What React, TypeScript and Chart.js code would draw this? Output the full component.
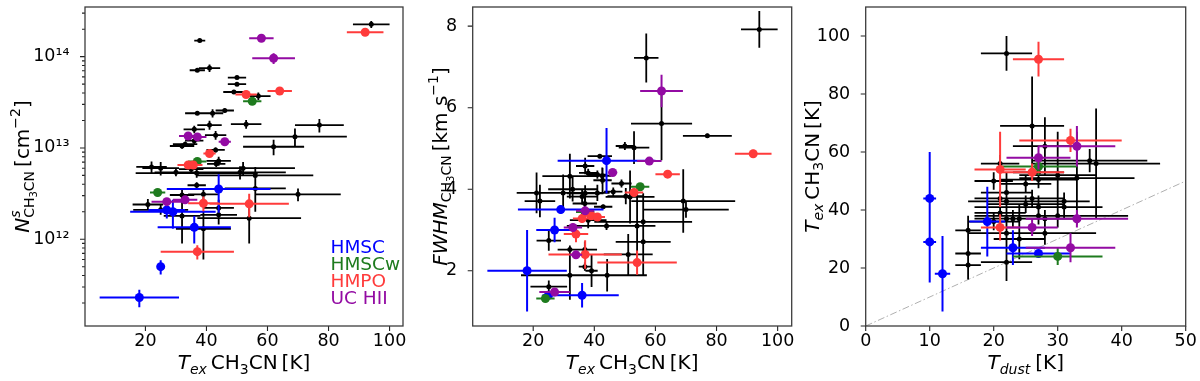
import React, { useEffect, useRef } from "react";
import { Chart, registerables } from "chart.js";
Chart.register(...registerables);

type P = [number, number, number, number]; // x, y, xErr, yErr

// ---------------- Panel 1: N(CH3CN) vs Tex ----------------
const texTicks = [20, 40, 60, 80, 100];
const nTicks = [1e12, 1e13, 1e14];
const n_HMSC: P[] = [
  [18, 2.3e11, 13, 0.5e11], [25, 5.0e11, 0.8, 0.9e11], [27, 2.09e12, 6, 0.4e12],
  [29, 2.0e12, 14, 0.7e12], [36, 1.35e12, 12, 0.45e12], [44, 3.55e12, 17, 1.6e12],
];
const n_HMSCw: P[] = [
  [55, 3.25e13, 3, 0.2e13], [37, 7.1e12, 3, 0.6e12], [24, 3.25e12, 2.5, 0.3e12],
];
const n_HMPO: P[] = [
  [92, 1.85e14, 6, 0.1e14], [64, 4.2e13, 4, 0.2e13], [53, 3.85e13, 3.5, 0.2e13],
  [41, 8.7e12, 2, 0.5e12], [34, 6.5e12, 3.5, 0.4e12], [35.7, 6.5e12, 3, 0.4e12],
  [39, 2.48e12, 5, 0.45e12], [54, 2.44e12, 13, 0.7e12], [37, 7.3e11, 12, 1.3e11],
];
const n_UCHII: P[] = [
  [58, 1.59e14, 4, 0.08e14], [62, 9.6e13, 7, 1.3e13], [34, 1.35e13, 3, 0.08e13],
  [37, 1.32e13, 3, 0.08e13], [46, 1.17e13, 2, 0.07e13], [27, 2.58e12, 5, 0.2e12],
  [33, 2.7e12, 4, 0.2e12],
];
const n_other: P[] = [
  [94, 2.26e14, 6, 0.2e14], [37.8, 1.5e14, 1.8, 0.06e14], [37, 7.1e13, 2.5, 0.3e13],
  [41, 7.5e13, 3.5, 0.7e13], [50, 5.9e13, 3, 0.25e13], [50, 5.0e13, 3, 0.2e13],
  [49, 4.1e13, 3.5, 0.2e13], [57, 3.7e13, 4, 0.35e13], [37, 2.4e13, 4, 0.1e13],
  [42, 2.4e13, 3.5, 0.25e13], [46, 2.57e13, 3, 0.12e13], [41, 1.78e13, 4, 0.2e13],
  [53, 1.82e13, 5, 0.2e13], [77, 1.78e13, 8, 0.3e13], [69, 1.33e13, 17, 0.3e13],
  [62, 1.03e13, 10, 0.2e13], [36, 1.6e13, 3.5, 0.15e13], [43, 1.38e13, 3.5, 0.15e13],
  [32, 1.05e13, 4, 0.07e13], [33, 1.1e13, 4, 0.07e13], [36, 1.2e13, 3, 0.08e13],
  [43, 9.5e12, 3, 0.6e12], [22, 6.2e12, 5, 0.9e12], [25, 6.0e12, 6, 1.0e12],
  [30, 5.4e12, 7, 0.5e12], [35, 5.85e12, 4, 0.4e12], [36.8, 5.3e12, 20, 0.6e12],
  [43.2, 6.7e12, 3, 0.5e12], [44, 7.2e12, 4, 0.8e12], [51, 5.4e12, 15, 0.9e12],
  [52, 6.0e12, 17, 1.0e12], [56, 5.0e12, 19, 1.2e12], [36.8, 3.9e12, 3, 0.3e12],
  [56, 3.6e12, 10, 1.6e12], [70, 3.1e12, 14, 0.5e12], [39, 3.1e12, 5, 0.4e12],
  [32, 3.05e12, 4, 0.45e12], [20.8, 2.4e12, 5, 0.35e12], [25, 2.1e12, 9, 0.25e12],
  [32, 1.8e12, 6, 0.9e12], [44, 2.2e12, 5, 0.5e12], [44, 1.85e12, 6, 0.4e12],
  [54, 1.7e12, 17, 0.8e12], [39, 1.3e12, 9, 0.7e12],
];

// ---------------- Panel 2: FWHM vs Tex ----------------
const fwhmTicks = [2, 4, 6, 8];
const w_HMSC: P[] = [
  [18, 2.0, 13, 1.0], [25, 1.4, 2, 0.1], [27, 3.0, 6, 0.3],
  [29, 3.5, 14, 0.1], [36, 1.4, 12, 0.3], [44, 4.7, 16, 0.8],
];
const w_HMSCw: P[] = [[55, 4.06, 3, 0.08], [37, 3.44, 3, 0.1], [24, 1.32, 3, 0.06]];
const w_HMPO: P[] = [
  [92, 4.87, 6, 0.1], [64, 4.37, 4, 0.06], [53, 3.92, 3, 0.1], [36, 3.28, 3, 0.1],
  [39, 3.35, 3, 0.08], [41, 3.32, 2.5, 0.08], [34, 2.9, 4, 0.2], [37, 2.4, 12, 0.35],
  [54, 2.2, 13, 0.3],
];
const w_UCHII: P[] = [
  [62, 6.41, 7, 0.4], [58, 4.69, 4, 0.08], [46, 4.41, 1.5, 0.06], [33, 3.06, 3, 0.1],
  [34, 2.39, 2, 0.08], [27, 1.48, 5, 0.06], [37, 3.47, 3, 0.1],
];
const w_other: P[] = [
  [94, 7.92, 6, 0.45], [57, 7.22, 4, 0.6], [62, 5.61, 10, 0.9], [77, 5.31, 8, 0.05],
  [50, 5.06, 3, 0.1], [53, 5.02, 5, 0.4], [41.8, 4.81, 4, 0.05], [37, 4.57, 3, 0.2],
  [38, 4.4, 3, 0.1], [41, 4.36, 3, 0.1], [42.6, 4.33, 3, 0.2], [42.7, 4.22, 3, 0.3],
  [48.9, 4.14, 3.3, 0.1], [32, 4.32, 9, 0.55], [21.1, 3.91, 6.5, 0.5], [22.2, 3.71, 5, 0.4],
  [29.8, 3.91, 9, 0.45], [32.9, 4.0, 8, 0.3], [36, 3.82, 5, 0.2], [37, 3.9, 6, 0.2],
  [41, 3.91, 4, 0.2], [46.2, 3.94, 3, 0.1], [50.3, 3.83, 6, 0.2], [51.7, 3.81, 8, 0.65],
  [69.1, 3.71, 17, 0.78], [70, 3.5, 14, 0.2], [42.9, 3.57, 3, 0.05], [36.9, 3.65, 4, 0.15],
  [38, 3.24, 6, 0.2], [44, 3.1, 13, 0.1], [54, 3.1, 6, 0.8], [56, 3.2, 16, 0.7],
  [56, 2.71, 9, 0.8], [51.1, 2.4, 8, 0.5], [32, 2.52, 4, 0.1], [36.9, 2.52, 4, 0.2],
  [25.1, 2.74, 4, 0.25], [36.9, 2.1, 2, 0.1], [39.1, 2.0, 2, 0.4], [32, 1.89, 16, 0.6],
  [44.2, 1.89, 13, 0.4], [25.1, 1.61, 6, 0.15],
];

// ---------------- Panel 3: Tex vs Tdust ----------------
const tdustTicks = [0, 10, 20, 30, 40, 50];
const texTicks3 = [0, 20, 40, 60, 80, 100];
const oneToOne: [number, number][] = [[0, 0], [50, 50]];
const t_HMSC: P[] = [
  [10, 44, 1, 16], [10, 29, 1, 14], [12, 18, 1.2, 13], [19, 36, 2.8, 12], [23, 27, 5, 6], [27, 25, 5, 1],
];
const t_HMSCw: P[] = [[27, 55, 6, 3], [30, 24, 7, 3]];
const t_HMPO: P[] = [[27, 92, 4, 6], [32, 64, 8, 4], [21, 54, 4, 13], [26, 53, 5, 3], [21, 34, 3, 4.5]];
const t_UCHII: P[] = [[27, 58, 5, 4], [33, 62, 6, 7], [33, 37, 8, 3], [26, 34, 4, 3], [32, 27, 7, 5]];
const t_other: P[] = [
  [22, 94, 4, 6], [26, 69, 5, 17], [28, 62, 5, 10], [36, 56, 10, 19], [35, 57, 9, 4],
  [21, 56, 3, 3], [20, 50, 3, 3], [25, 49, 4, 3], [27, 50.5, 6, 3], [27, 53, 4, 3],
  [30, 52, 6, 15], [33, 51, 9, 16], [21, 44, 4, 3], [22, 46, 4, 7], [22, 43, 6, 4],
  [26, 44, 5, 3], [25, 42, 6, 3], [27, 41, 10, 4], [31, 43, 4, 3], [31, 41, 6, 4],
  [21, 39, 4, 3], [20, 36, 4, 3], [22, 37, 4, 8], [23, 37, 6, 3], [24, 37, 5, 5],
  [27, 38, 10, 3], [28, 37, 5, 3], [30, 38, 11, 4], [22, 32, 6, 5], [24, 30, 4, 7],
  [28, 32, 8, 4], [16, 33, 2, 5], [16, 25, 2, 9], [16, 21, 2, 5], [22, 22, 4, 6.5],
];

const legendLabels = ["HMSC", "HMSCw", "HMPO", "UC HII"];

// ---------------- styles ----------------
const C_HMSC = "#0000ff";
const C_HMSCW = "#1e7b1e";
const C_HMPO = "#ff3b3b";
const C_UCHII = "#930ba3";
const C_OTHER = "#000000";
const FAM = '"DejaVu Sans"';

type Seg = { t?: string; it?: boolean; sz?: number; dy?: number; gap?: number; stack?: Seg[][] };

const texLabel: Seg[] = [
  { t: "T", it: true }, { t: "ex", it: true, sz: 14, dy: 4.5 }, { gap: 4 },
  { t: "CH" }, { t: "3", sz: 14, dy: 4.5 }, { t: "CN" }, { gap: 4 }, { t: "[K]" },
];
const nLabel: Seg[] = [
  { t: "N", it: true },
  { stack: [[{ t: "s", it: true, sz: 14, dy: -9 }], [{ t: "CH", sz: 14, dy: 5.5 }, { t: "3", sz: 10, dy: 8.5 }, { t: "CN", sz: 14, dy: 5.5 }]] },
  { gap: 4 }, { t: "[cm" }, { t: "\u22122", sz: 14, dy: -9 }, { t: "]" },
];
const fwhmLabel: Seg[] = [
  { t: "FWHM", it: true }, { t: "CH", sz: 14, dy: 4.5 }, { t: "3", sz: 10, dy: 7.5 }, { t: "CN", sz: 14, dy: 4.5 },
  { gap: 4 }, { t: "[km s" }, { t: "\u22121", sz: 14, dy: -9 }, { t: "]" },
];
const tdustLabel: Seg[] = [{ t: "T", it: true }, { t: "dust", it: true, sz: 14, dy: 4.5 }, { gap: 5 }, { t: "[K]" }];

function fontOf(s: Seg) {
  return `${s.it ? "italic " : ""}${s.sz ?? 20}px ${FAM}`;
}
function seqWidth(ctx: CanvasRenderingContext2D, segs: Seg[]): number {
  let w = 0;
  for (const s of segs) {
    if (s.gap) w += s.gap;
    else if (s.stack) w += Math.max(...s.stack.map((q) => seqWidth(ctx, q)));
    else { ctx.font = fontOf(s); w += ctx.measureText(s.t!).width; }
  }
  return w;
}
function drawSeq(ctx: CanvasRenderingContext2D, segs: Seg[], x: number, y: number): number {
  for (const s of segs) {
    if (s.gap) x += s.gap;
    else if (s.stack) {
      let mw = 0;
      for (const q of s.stack) mw = Math.max(mw, drawSeq(ctx, q, x, y) - x);
      x += mw;
    } else {
      ctx.font = fontOf(s);
      ctx.fillText(s.t!, x, y + (s.dy ?? 0));
      x += ctx.measureText(s.t!).width;
    }
  }
  return x;
}
function drawRich(ctx: CanvasRenderingContext2D, segs: Seg[], cx: number, cy: number, vertical: boolean) {
  ctx.save();
  ctx.fillStyle = "#000";
  ctx.textBaseline = "alphabetic";
  ctx.textAlign = "left";
  ctx.translate(cx, cy);
  if (vertical) ctx.rotate(-Math.PI / 2);
  const w = seqWidth(ctx, segs);
  drawSeq(ctx, segs, -w / 2, 0);
  ctx.restore();
}

const SUP: Record<string, string> = { "0": "\u2070", "1": "\u00b9", "2": "\u00b2", "3": "\u00b3", "4": "\u2074", "5": "\u2075", "6": "\u2076", "7": "\u2077", "8": "\u2078", "9": "\u2079" };

interface SetDef { data: P[]; color: string; r: number; lw: number }
interface PanelDef {
  w: number; yAxisW: number; padR: number;
  xMin: number; xMax: number; xTicks: number[];
  yMin: number; yMax: number; yTicks: number[]; yLog: boolean;
  sets: SetDef[];
  diag?: [number, number][];
  xTitle: Seg[]; yTitle: Seg[]; yTitleX: number;
  legend?: boolean;
}

function sets(h: P[], hw: P[], hp: P[], uc: P[], o: P[]): SetDef[] {
  return [
    { data: uc, color: C_UCHII, r: 4.5, lw: 2 },
    { data: hp, color: C_HMPO, r: 4.5, lw: 2 },
    { data: hw, color: C_HMSCW, r: 4.5, lw: 2 },
    { data: h, color: C_HMSC, r: 4.5, lw: 2 },
    { data: o, color: C_OTHER, r: 2.5, lw: 1.8 },
  ];
}

const panel1: PanelDef = {
  w: 410, yAxisW: 85, padR: 7,
  xMin: 0.2, xMax: 104.4, xTicks: texTicks,
  yMin: 1.12e11, yMax: 3.5e14, yTicks: nTicks, yLog: true,
  sets: sets(n_HMSC, n_HMSCw, n_HMPO, n_UCHII, n_other),
  xTitle: texLabel, yTitle: nLabel, yTitleX: 28.5, legend: true,
};
const panel2: PanelDef = {
  w: 390, yAxisW: 62.7, padR: 8.3,
  xMin: 0.2, xMax: 104.6, xTicks: texTicks,
  yMin: 0.645, yMax: 8.47, yTicks: fwhmTicks, yLog: false,
  sets: sets(w_HMSC, w_HMSCw, w_HMPO, w_UCHII, w_other),
  xTitle: texLabel, yTitle: fwhmLabel, yTitleX: 36.5,
};
const panel3: PanelDef = {
  w: 400, yAxisW: 65.7, padR: 14.3,
  xMin: 0, xMax: 50, xTicks: tdustTicks,
  yMin: 0, yMax: 110, yTicks: texTicks3, yLog: false,
  sets: sets(t_HMSC, t_HMSCw, t_HMPO, t_UCHII, t_other),
  diag: oneToOne,
  xTitle: tdustLabel, yTitle: texLabel, yTitleX: 18.5,
};

const errorBarPlugin = {
  id: "errbars",
  beforeDatasetDraw(chart: any, args: any) {
    const ds: any = chart.data.datasets[args.index];
    if (!ds.errColor) return;
    const ctx: CanvasRenderingContext2D = chart.ctx;
    const xs = chart.scales.x, ys = chart.scales.y;
    const a = chart.chartArea;
    ctx.save();
    ctx.beginPath();
    ctx.rect(a.left, a.top, a.right - a.left, a.bottom - a.top);
    ctx.clip();
    ctx.strokeStyle = ds.errColor;
    ctx.lineWidth = ds.errWidth;
    ctx.beginPath();
    for (const p of ds.data) {
      const px = xs.getPixelForValue(p.x), py = ys.getPixelForValue(p.y);
      ctx.moveTo(xs.getPixelForValue(p.x - p.xe), py);
      ctx.lineTo(xs.getPixelForValue(p.x + p.xe), py);
      const lo = p.y - p.ye;
      const yLo = ys.type === "logarithmic" && lo <= 0 ? a.bottom + 5 : ys.getPixelForValue(lo);
      ctx.moveTo(px, yLo);
      ctx.lineTo(px, ys.getPixelForValue(p.y + p.ye));
    }
    ctx.stroke();
    ctx.restore();
  },
};

function build(canvas: HTMLCanvasElement, p: PanelDef) {
  const datasets: any[] = p.sets.map((s) => ({
    data: s.data.map(([x, y, xe, ye]) => ({ x, y, xe, ye })),
    pointRadius: s.r, pointHoverRadius: s.r,
    pointBackgroundColor: s.color, pointBorderColor: s.color, pointBorderWidth: 0,
    showLine: false, errColor: s.color, errWidth: s.lw,
  }));
  if (p.diag) {
    datasets.push({
      data: p.diag.map(([x, y]) => ({ x, y })), showLine: true, borderColor: "#b0b0b0",
      borderWidth: 1, borderDash: [7, 2.5, 1.5, 2.5], pointRadius: 0, fill: false,
    });
  }
  const tickFont = { family: "DejaVu Sans", size: 17.5 };
  const decorPlugin = {
    id: "decor",
    afterDatasetsDraw(chart: any) {
      const ctx: CanvasRenderingContext2D = chart.ctx;
      const a = chart.chartArea;
      const xs = chart.scales.x, ys = chart.scales.y;
      ctx.save();
      ctx.strokeStyle = "#222";
      ctx.lineWidth = 1.1;
      ctx.beginPath();
      for (const v of p.xTicks) {
        const x = xs.getPixelForValue(v);
        ctx.moveTo(x, a.bottom); ctx.lineTo(x, a.bottom + 5);
      }
      for (const v of p.yTicks) {
        const y = ys.getPixelForValue(v);
        ctx.moveTo(a.left, y); ctx.lineTo(a.left - 5, y);
      }
      if (p.yLog) {
        for (let d = Math.floor(Math.log10(p.yMin)); d <= Math.ceil(Math.log10(p.yMax)); d++) {
          for (let m = 2; m <= 9; m++) {
            const v = m * Math.pow(10, d);
            if (v < p.yMin || v > p.yMax) continue;
            const y = ys.getPixelForValue(v);
            ctx.moveTo(a.left, y); ctx.lineTo(a.left - 3, y);
          }
        }
      }
      ctx.stroke();
      ctx.strokeStyle = "#3c3c3c";
      ctx.lineWidth = 1.3;
      ctx.strokeRect(a.left, a.top, a.right - a.left, a.bottom - a.top);
      ctx.restore();
    },
    afterDraw(chart: any) {
      const ctx: CanvasRenderingContext2D = chart.ctx;
      const a = chart.chartArea;
      drawRich(ctx, p.xTitle, (a.left + a.right) / 2, 369, false);
      drawRich(ctx, p.yTitle, p.yTitleX, (a.top + a.bottom) / 2, true);
      if (p.legend) {
        const cols = [C_HMSC, C_HMSCW, C_HMPO, C_UCHII];
        const base = [253.3, 269.8, 286.7, 303.6];
        ctx.save();
        ctx.font = `18.5px ${FAM}`;
        ctx.textBaseline = "alphabetic";
        ctx.textAlign = "left";
        legendLabels.forEach((l, i) => {
          ctx.fillStyle = cols[i];
          ctx.fillText(l, 330.5, base[i]);
        });
        ctx.restore();
      }
    },
  };
  return new Chart(canvas, {
    type: "scatter",
    data: { datasets },
    options: {
      animation: false,
      responsive: false,
      devicePixelRatio: 1,
      events: [],
      layout: { padding: { top: 7, right: p.padR, bottom: 0, left: 0 } },
      plugins: { legend: { display: false }, tooltip: { enabled: false } },
      scales: {
        x: {
          type: "linear", min: p.xMin, max: p.xMax,
          grid: { display: false }, border: { display: false },
          ticks: { font: tickFont, color: "#000", padding: -3, maxRotation: 0, minRotation: 0, autoSkip: false, callback: (v: any) => String(v) },
          afterBuildTicks: (s: any) => { s.ticks = p.xTicks.map((v) => ({ value: v })); },
          afterFit: (s: any) => { s.height = 55; s.paddingLeft = 0; s.paddingRight = 0; },
        },
        y: {
          type: p.yLog ? "logarithmic" : "linear", min: p.yMin, max: p.yMax,
          grid: { display: false }, border: { display: false },
          ticks: {
            font: tickFont, color: "#000", padding: 7.5, autoSkip: false,
            callback: (v: any) => p.yLog ? "10" + String(Math.round(Math.log10(v))).split("").map((c) => SUP[c]).join("") : String(v),
          },
          afterBuildTicks: (s: any) => { s.ticks = p.yTicks.map((v) => ({ value: v })); },
          afterFit: (s: any) => { s.width = p.yAxisW; s.paddingTop = 0; s.paddingBottom = 0; },
        },
      },
    } as any,
    plugins: [errorBarPlugin as any, decorPlugin as any],
  });
}

export default function App() {
  const r1 = useRef<HTMLCanvasElement>(null);
  const r2 = useRef<HTMLCanvasElement>(null);
  const r3 = useRef<HTMLCanvasElement>(null);
  useEffect(() => {
    const charts = [build(r1.current!, panel1), build(r2.current!, panel2), build(r3.current!, panel3)];
    return () => charts.forEach((c) => c.destroy());
  }, []);
  return (
    <div style={{ position: "absolute", left: 0, top: 0, width: 1200, height: 381, background: "#fff", overflow: "hidden" }}>
      <canvas ref={r1} width={410} height={381} style={{ position: "absolute", left: 0, top: 0 }} />
      <canvas ref={r2} width={390} height={381} style={{ position: "absolute", left: 410, top: 0 }} />
      <canvas ref={r3} width={400} height={381} style={{ position: "absolute", left: 800, top: 0 }} />
    </div>
  );
}
